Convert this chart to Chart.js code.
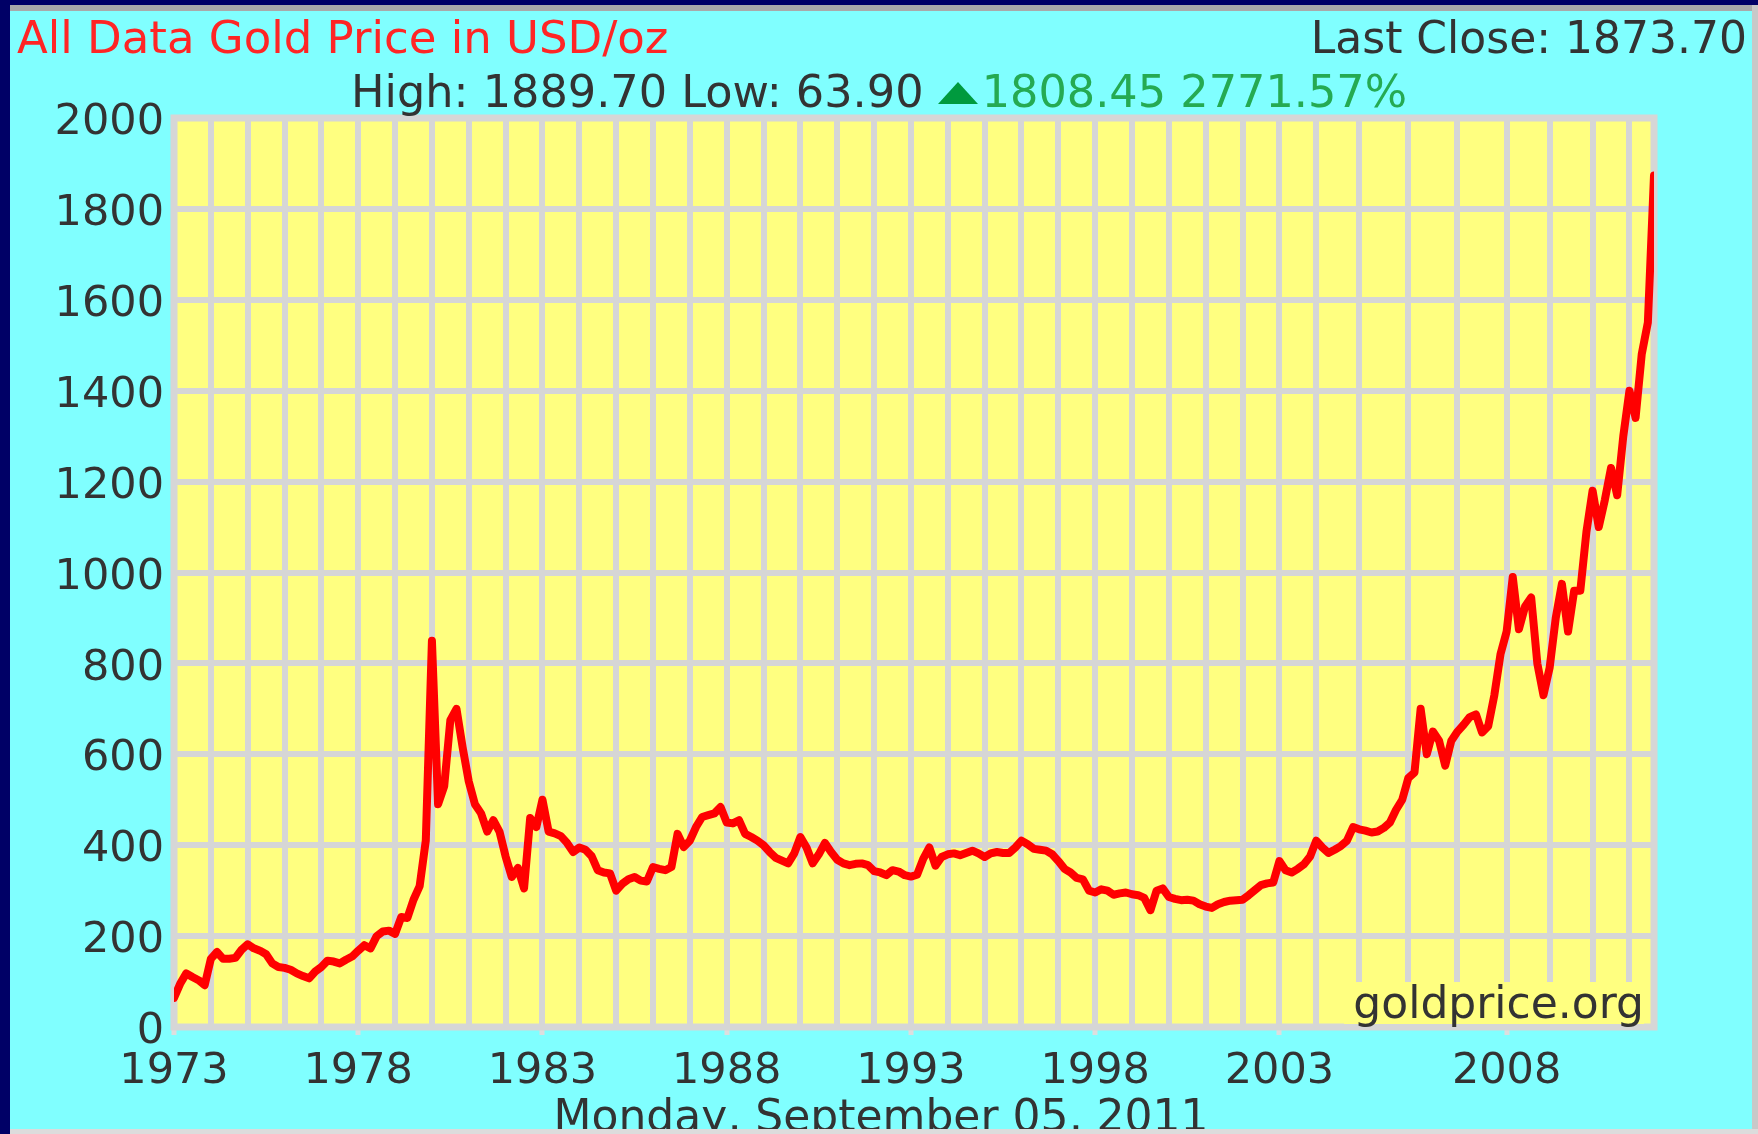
<!DOCTYPE html>
<html>
<head>
<meta charset="utf-8">
<title>All Data Gold Price in USD/oz</title>
<script src="https://cdn.jsdelivr.net/npm/chart.js@4.4.1/dist/chart.umd.min.js"></script>
<style>
  html, body { margin: 0; padding: 0; }
  body {
    width: 1758px; height: 1134px; position: relative; overflow: hidden;
    background: #000066; font-family: 'DejaVu Sans', Verdana, sans-serif;
  }
  #panel {
    position: absolute; left: 10px; top: 5px; width: 1748px; height: 1129px;
    box-sizing: border-box; background: #80ffff; border-top: 6px solid #a9a9a9;
  }
  #edgeRight { position: absolute; left: 1752px; top: 5px; width: 6px; height: 1129px; background: #c8c8c8; z-index: 3; }
  #edgeBottom { position: absolute; left: 10px; top: 1129px; width: 1748px; height: 5px; background: #dcdcdc; z-index: 3; }
  #chart { position: absolute; left: 0; top: 0; z-index: 1; }
  .txt { position: absolute; font-size: 44px; line-height: 44px; white-space: nowrap; color: #333; z-index: 2; }
  #title { left: 17px; top: 16px; font-size: 45px; color: #ff2525; }
  #lastClose { right: 11px; top: 16px; }
  #stats { left: 351px; top: 70px; font-size: 44.6px; }
  #stats .up { color: #25aa52; }
  .tri {
    display: inline-block; width: 0; height: 0; margin-right: 4px; vertical-align: 3px;
    border-left: 20px solid transparent; border-right: 20px solid transparent; border-bottom: 22px solid #009a3e;
  }
  #date { left: 381px; width: 1000px; text-align: center; top: 1094px; }
  #brand {
    left: 1344px; top: 982px; width: 300px; height: 42px; line-height: 42px;
    text-align: right; background: #ffff80;
  }
</style>
</head>
<body>
<div id="panel"></div>
<canvas id="chart" width="1758" height="1134"></canvas>
<div class="txt" id="title">All Data Gold Price in USD/oz</div>
<div class="txt" id="lastClose">Last Close: 1873.70</div>
<div class="txt" id="stats">High: 1889.70 Low: 63.90 <span class="tri"></span><span class="up">1808.45 2771.57%</span></div>
<div class="txt" id="brand">goldprice.org</div>
<div class="txt" id="date">Monday, September 05, 2011</div>
<div id="edgeRight"></div>
<div id="edgeBottom"></div>

<script>
// samples per calendar year, the feed gets denser in the mid 2000s
const firstYear = 1973;
const samplesPerYear = [
    6, 6, 6, 6, 6, 6, 6, 6, 6, 6,      // 1973-1982
    6, 6, 6, 6, 6, 6, 6, 6, 6, 6,      // 1983-1992
    6, 6, 6, 6, 6, 6, 6, 6, 6, 6, 6,   // 1993-2003
    7, 8, 8, 8, 7, 7, 6, 5             // 2004-2011
];

const labelYears = [1973, 1978, 1983, 1988, 1993, 1998, 2003, 2008];

// USD per ounce
const prices = [
    64, 95, 118, 110, 103, 92,          // 1973
    150, 165, 150, 150, 152, 170,       // 1974
    182, 173, 168, 160, 140, 132,       // 1975
    130, 126, 118, 112, 107, 122,       // 1976
    132, 146, 144, 140, 148, 155,       // 1977
    168, 180, 173, 200, 210, 212,       // 1978
    205, 242, 240, 280, 310, 410,       // 1979
    850, 490, 530, 675, 700, 615,       // 1980
    540, 490, 470, 430, 455, 430,       // 1981
    375, 330, 350, 305, 460, 440,       // 1982
    500, 430, 426, 420, 405, 385,       // 1983
    395, 390, 376, 345, 340, 338,       // 1984
    300, 315, 325, 330, 322, 320,       // 1985
    352, 348, 345, 352, 425, 396,       // 1986
    410, 440, 462, 466, 470, 484,       // 1987
    450, 448, 455, 425, 418, 410,       // 1988
    400, 385, 372, 366, 360, 382,       // 1989
    418, 395, 360, 380, 405, 385,       // 1990
    368, 360, 356, 359, 360, 356,       // 1991
    343, 340, 334, 345, 342, 334,       // 1992
    331, 335, 370, 395, 355, 374,       // 1993
    380, 382, 378, 383, 388, 382,       // 1994
    374, 382, 385, 383, 383, 395,       // 1995
    410, 402, 392, 390, 388, 380,       // 1996
    365, 348, 340, 328, 325, 300,       // 1997
    296, 303, 300, 291, 294, 296,       // 1998
    292, 290, 284, 257, 300, 305,       // 1999
    286, 282, 279, 280, 278, 270,       // 2000
    265, 262, 270, 275, 278, 279,       // 2001
    280, 290, 301, 312, 316, 318,       // 2002
    365, 345, 340, 348, 358, 375,       // 2003
    410, 395, 383, 390, 398, 410, 440,  // 2004
    435, 432, 428, 430, 438, 450, 478, 500,   // 2005
    548, 560, 700, 600, 650, 630, 575, 630,   // 2006
    650, 665, 682, 688, 648, 662, 730, 820,   // 2007
    870, 990, 875, 925, 945, 800, 730,        // 2008
    790, 900, 975, 870, 960, 960, 1090,       // 2009
    1180, 1100, 1160, 1230, 1170, 1300,       // 2010
    1400, 1340, 1480, 1550, 1873.70           // 2011
];

// index of the first sample of every year, used for the vertical grid
const yearStarts = [];
const sampleLabels = [];
samplesPerYear.forEach(function (count, k) {
    const year = firstYear + k;
    yearStarts.push({ year: year, index: sampleLabels.length });
    for (let n = 1; n <= count; n++) {
        sampleLabels.push(year + ' #' + n);
    }
});

function yearAt(index) {
    let found = yearStarts[0].year;
    yearStarts.forEach(function (s) {
        if (s.index <= index) found = s.year;
    });
    return found;
}

const gridColor = '#d6d6d6';

const plotBackground = {
    id: 'plotBackground',
    beforeDraw(chart) {
        const { ctx, chartArea: a } = chart;
        ctx.save();
        ctx.fillStyle = '#ffff80';
        ctx.fillRect(a.left, a.top, a.right - a.left, a.bottom - a.top);
        ctx.restore();
    },
    beforeDatasetsDraw(chart) {
        const { ctx, chartArea: a } = chart;
        ctx.save();
        ctx.strokeStyle = gridColor;
        ctx.lineWidth = 7;
        ctx.strokeRect(a.left, a.top, a.right - a.left, a.bottom - a.top);
        ctx.restore();
    }
};

Chart.defaults.font.family = "'DejaVu Sans', Verdana, sans-serif";
Chart.defaults.color = '#333';

new Chart(document.getElementById('chart'), {
    type: 'line',
    data: {
        labels: sampleLabels,
        datasets: [{
            label: 'Gold Price',
            data: prices.map((p, i) => ({ x: i, y: p })),
            borderColor: '#ff0000',
            borderWidth: 8,
            borderJoinStyle: 'round',
            borderCapStyle: 'round',
            pointRadius: 0,
            tension: 0,
            fill: false
        }]
    },
    options: {
        responsive: false,
        animation: false,
        layout: { padding: { left: 0, top: 118, right: 104, bottom: 0 } },
        scales: {
            x: {
                type: 'linear',
                min: 0,
                max: prices.length - 1,
                afterBuildTicks: scale => {
                    scale.ticks = yearStarts.map(s => ({ value: s.index }));
                },
                afterFit: scale => { scale.height = 107; },
                border: { display: false },
                grid: {
                    color: gridColor,
                    lineWidth: 6,
                    drawTicks: true,
                    tickLength: 8,
                    tickWidth: 5,
                    tickColor: ctx => labelYears.includes(yearAt(ctx.tick.value)) ? '#dedede' : 'rgba(0,0,0,0)'
                },
                ticks: {
                    autoSkip: false,
                    maxRotation: 0,
                    minRotation: 0,
                    padding: 11,
                    color: '#333',
                    font: { size: 43 },
                    callback: value => {
                        const y = yearAt(value);
                        return labelYears.includes(y) ? String(y) : '';
                    }
                }
            },
            y: {
                min: 0,
                max: 2000,
                afterFit: scale => { scale.width = 174; },
                border: { display: false },
                grid: { color: gridColor, lineWidth: 6, drawTicks: false },
                ticks: {
                    stepSize: 200,
                    padding: 10,
                    labelOffset: 5,
                    color: '#333',
                    font: { size: 43 },
                    callback: value => String(value)
                }
            }
        },
        plugins: {
            legend: { display: false },
            tooltip: { enabled: false }
        }
    },
    plugins: [plotBackground]
});
</script>
</body>
</html>
